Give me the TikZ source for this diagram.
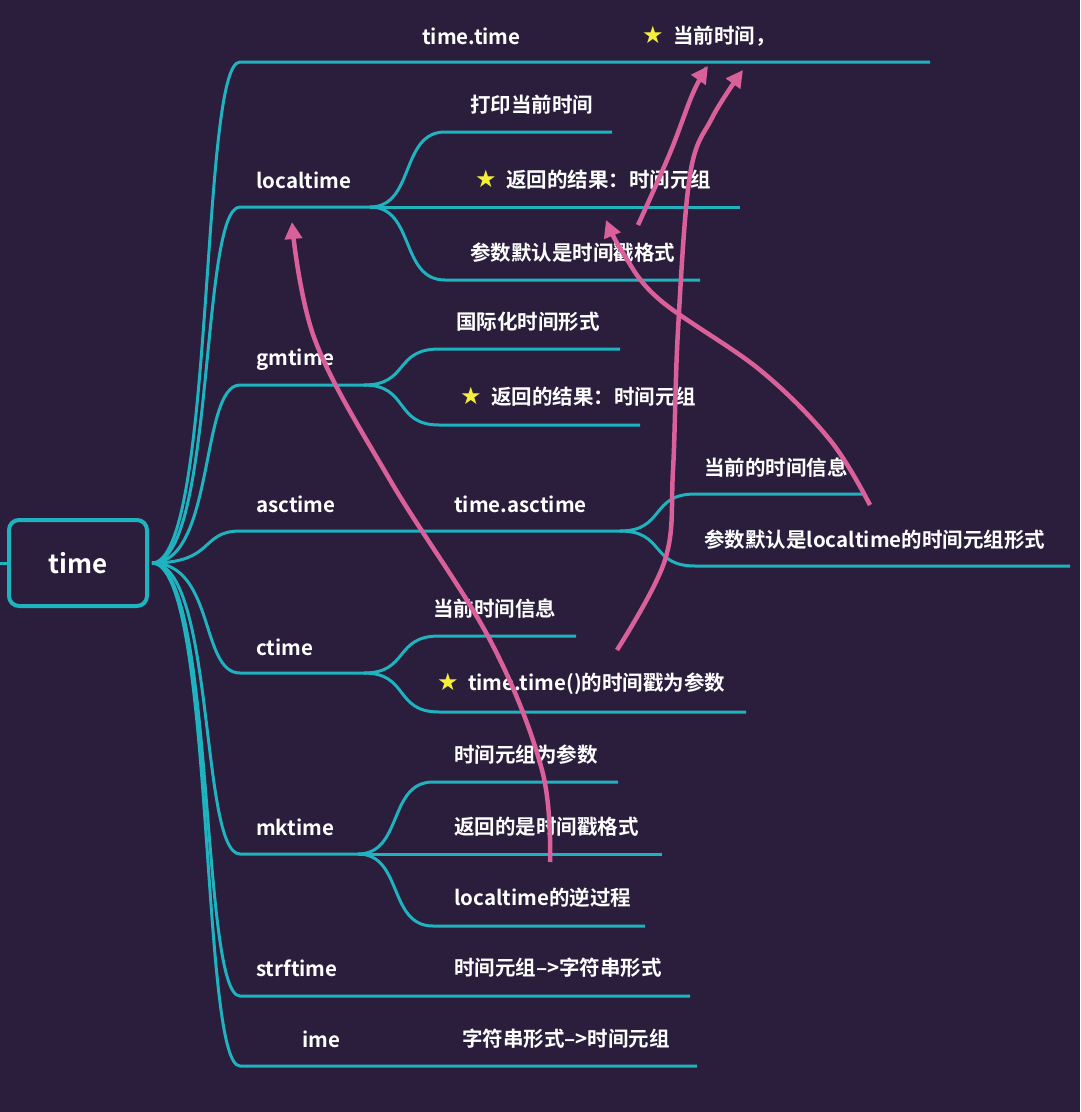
\documentclass[tikz,border=0pt]{standalone}
\usepackage{fontspec}
\setmainfont{Noto Sans CJK SC}[BoldFont={* Bold}]
\newfontfamily\symf{DejaVu Sans}
\definecolor{bg}{HTML}{2A1E3C}
\definecolor{teal}{HTML}{1FB3BF}
\definecolor{pinkc}{HTML}{D9609A}
\definecolor{staryel}{HTML}{F5EE3A}
\usetikzlibrary{arrows.meta,calc}
\tikzset{
  br/.style={draw=teal,line width=3pt},
  lbl/.style={text=white,font=\bfseries\fontsize{20.5}{23}\selectfont,anchor=west,inner sep=0pt},
  rootbox/.style={draw=teal,line width=4pt,rounded corners=10pt,minimum width=138pt,minimum height=86pt,text=white,font=\bfseries\fontsize{26}{30}\selectfont},
  ann/.style={draw=pinkc,line width=4.5pt,-{Triangle[length=17pt,width=17pt]}},
}
\newcommand{\stz}{{\symf\fontsize{24}{24}\selectfont\color{staryel}★}\ \ }
\begin{document}
\begin{tikzpicture}[x=1pt,y=-1pt]
\fill[bg] (0,0) rectangle (1080,1112);
\useasboundingbox (0,0) rectangle (1080,1112);
\node[rootbox] (root) at (78,563) {time};
\draw[br] (0,563) -- (root.west);
\coordinate (h) at (152,563);
% main branches
\foreach \y/\e in {62/930,207/372,385/366,531/622,673/366,854/360,996/690,1066/697}{
  \draw[br] (h) .. controls (215,563) and (200,\y) .. (240,\y) -- (\e,\y);
}
% sub-branches: hub x, hub y, target y, end x
\foreach \sx/\py/\y/\e in {370/207/132/612,370/207/207/740,370/207/280/700,364/385/349/620,364/385/425/640,620/531/494/865,620/531/566/1070,364/673/636/576,364/673/712/746,358/854/782/618,358/854/854/662,358/854/926/645}{
  \draw[br] (\sx,\py) .. controls ({\sx+45},\py) and ({\sx+30},\y) .. ({\sx+75},\y) -- (\e,\y);
}
% labels
\node[lbl] (t1) at (422,36) {time.time};
\node[lbl] (t2) at (642,36) {\stz 当前时间，};
\node[lbl] (a) at (256,180) {localtime};
\node[lbl] (a1) at (470,105) {打印当前时间};
\node[lbl] (a2) at (475,180) {\stz 返回的结果：时间元组};
\node[lbl] (a3) at (470,253) {参数默认是时间戳格式};
\node[lbl] (b) at (256,360) {gmtime};
\node[lbl] (b1) at (456,322) {国际化时间形式};
\node[lbl] (b2) at (460,397) {\stz 返回的结果：时间元组};
\node[lbl] (c) at (256,504) {asctime};
\node[lbl] (c0) at (454,504) {time.asctime};
\node[lbl] (c1) at (704,468) {当前的时间信息};
\node[lbl] (c2) at (704,540) {参数默认是localtime的时间元组形式};
\node[lbl] (d) at (256,647) {ctime};
\node[lbl] (d1) at (433,609) {当前时间信息};
\node[lbl] (d2) at (437,684) {\stz time.time()的时间戳为参数};
\node[lbl] (e) at (256,827) {mktime};
\node[lbl] (e1) at (454,755) {时间元组为参数};
\node[lbl] (e2) at (454,827) {返回的是时间戳格式};
\node[lbl] (e3) at (454,898) {localtime的逆过程};
\node[lbl] (f) at (256,968) {strftime};
\node[lbl] (f1) at (454,968) {时间元组–>字符串形式};
\node[lbl] (g) at (302,1039) {ime};
\node[lbl] (g1) at (462,1039) {字符串形式–>时间元组};
% pink annotation arrows
\draw[ann] plot[smooth,tension=0.6] coordinates {(550,862) (542,770) (490,640) (390,480) (315,340) (292,222)};
\draw[ann] plot[smooth,tension=0.6] coordinates {(617,650) (665,560) (673,470) (678,330) (690,175) (712,118) (743,70)};
\draw[ann] plot[smooth,tension=0.6] coordinates {(870,505) (830,440) (760,370) (660,300) (623,253) (606,220)};
\draw[ann] plot[smooth,tension=0.6] coordinates {(638,225) (670,153) (693,93) (708,66)};
\end{tikzpicture}
\end{document}
